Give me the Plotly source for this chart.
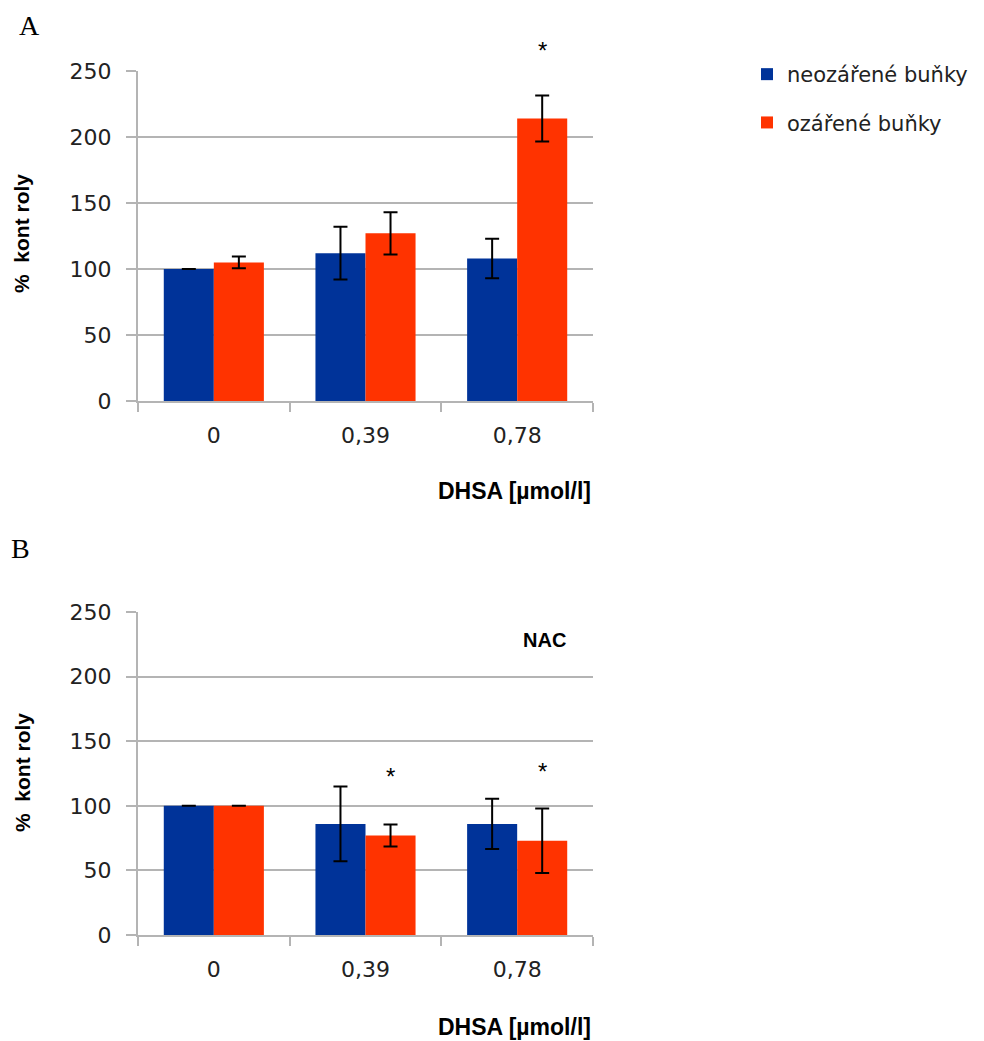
import plotly.graph_objects as go
from plotly.subplots import make_subplots

# DHSA concentrations (category labels)
categories = ["0", "0,39", "0,78"]

# Panel A: cell viability as % of control
a_neo = [100, 112, 108]
a_neo_err = [0, 20, 15]
a_oz = [105, 127, 214]
a_oz_err = [4.5, 16, 17.5]

# Panel B: with NAC
b_neo = [100, 86, 86]
b_neo_err = [0, 29, 19.5]
b_oz = [100, 77, 73]
b_oz_err = [0, 8.5, 25]

series_names = ["neozářené buňky", "ozářené buňky"]
blue = "#003399"
red = "#ff3300"
grid = "#b4b4b4"

W, H = 984, 1041


def px(x):
    return x / W


def py(y):
    return 1 - y / H


fig = make_subplots(rows=2, cols=1)


def add_panel(row, neo, neo_err, oz, oz_err, show_legend):
    for name, vals, errs, color in [
        (series_names[0], neo, neo_err, blue),
        (series_names[1], oz, oz_err, red),
    ]:
        fig.add_trace(
            go.Bar(
                x=categories, y=vals, name=name,
                marker=dict(color=color, line=dict(width=0)),
                error_y=dict(type="data", array=errs, visible=True,
                             color="black", thickness=2, width=7),
                showlegend=show_legend, legendgroup=name,
            ),
            row=row, col=1,
        )


add_panel(1, a_neo, a_neo_err, a_oz, a_oz_err, True)
add_panel(2, b_neo, b_neo_err, b_oz, b_oz_err, False)

xdom = [px(138), px(593)]
axis_font = dict(family="DejaVu Sans", size=22, color="#222222")

for r, ydom in [(1, [py(401), py(71)]), (2, [py(935), py(612)])]:
    fig.update_xaxes(
        row=r, col=1, domain=xdom, type="category", automargin=False,
        showline=True, linecolor=grid, linewidth=2,
        ticks="outside", tickson="boundaries", ticklen=9, tickwidth=2, tickcolor=grid,
        showgrid=False, tickfont=axis_font, ticklabelstandoff=14,
    )
    fig.update_yaxes(
        row=r, col=1, domain=ydom, range=[0, 250], dtick=50, automargin=False,
        showline=True, linecolor=grid, linewidth=2,
        showgrid=True, gridcolor=grid, gridwidth=2,
        ticks="outside", ticklen=10, tickwidth=2, tickcolor=grid,
        tickfont=axis_font, ticklabelstandoff=10, zeroline=False,
    )

annotations = []
title_font = dict(family="Liberation Sans", size=21, color="black")
for yc in [234, 773]:
    annotations.append(dict(
        text="<b>%  kont roly</b>", x=px(22), y=py(yc), xref="paper", yref="paper",
        xanchor="center", yanchor="middle",
        textangle=-90, showarrow=False, font=title_font,
    ))
for yb in [491, 1027]:
    annotations.append(dict(
        text="<b>DHSA [µmol/l]</b>", x=px(593), y=py(yb), xref="paper", yref="paper",
        xanchor="right", yanchor="middle", showarrow=False,
        font=dict(family="Liberation Sans", size=23, color="black"),
    ))
annotations.append(dict(
    text="<b>NAC</b>", x=px(544), y=py(640), xref="paper", yref="paper",
    xanchor="center", yanchor="middle",
    showarrow=False, font=dict(family="Liberation Sans", size=20, color="black"),
))
for letter, lx, ly in [("A", 29, 25), ("B", 20, 548)]:
    annotations.append(dict(
        text=letter, x=px(lx), y=py(ly), xref="paper", yref="paper",
        xanchor="center", yanchor="middle",
        showarrow=False, font=dict(family="Liberation Serif", size=28, color="black"),
    ))

# significance markers above the irradiated bars (y given in pixels from the top)
stars = [("x", "0,78", 50), ("x2", "0,39", 776), ("x2", "0,78", 772)]
for xr, cat, ypix in stars:
    annotations.append(dict(
        text="*", x=cat, y=py(ypix), xref=xr, yref="paper", xshift=25,
        xanchor="center", yanchor="middle",
        showarrow=False, font=dict(family="Liberation Sans", size=24, color="black"),
    ))

fig.update_layout(
    width=W, height=H,
    margin=dict(l=0, r=0, t=0, b=0, autoexpand=False),
    paper_bgcolor="white", plot_bgcolor="white",
    barmode="group", bargap=0.34, bargroupgap=0,
    legend=dict(x=px(747), y=py(54), xanchor="left", yanchor="top",
                font=dict(family="DejaVu Sans", size=21, color="#222222"),
                tracegroupgap=18, itemwidth=30),
    annotations=annotations,
)

fig.write_html("out.html")
